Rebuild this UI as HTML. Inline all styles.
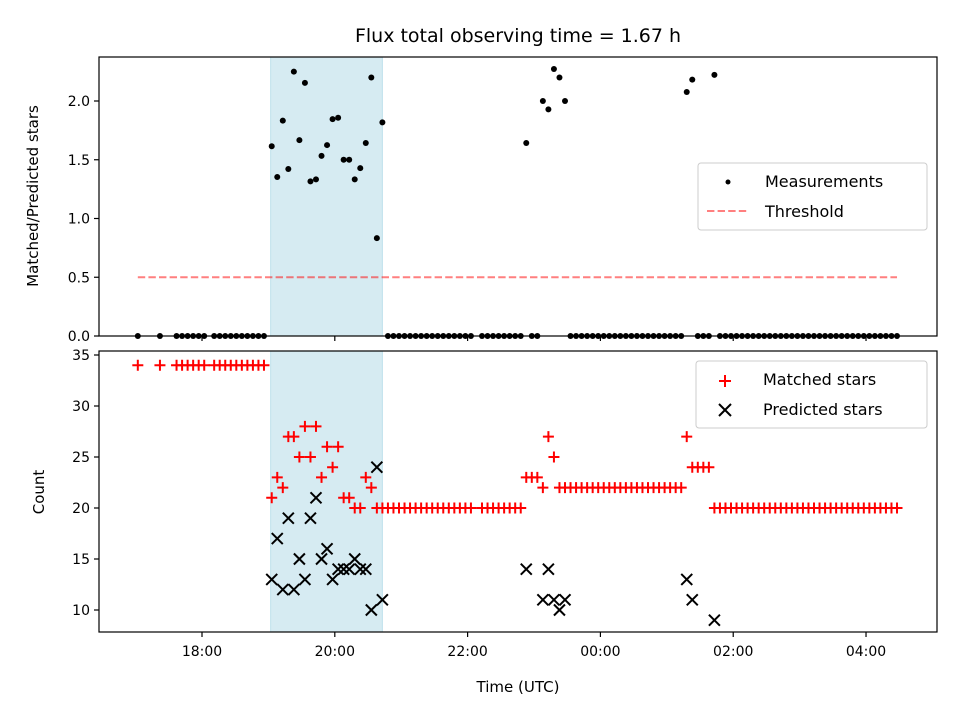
<!DOCTYPE html>
<html><head><meta charset="utf-8"><style>
body{margin:0;background:#fff}
svg text{font-family:"DejaVu Sans","Liberation Sans",sans-serif;fill:#000}
</style></head><body>
<svg id="fig" width="960" height="720" viewBox="0 0 960 720" xmlns="http://www.w3.org/2000/svg">
<rect width="960" height="720" fill="#fff"/>
<text x="518" y="42" font-size="19" text-anchor="middle">Flux total observing time = 1.67 h</text>
<g id="topPanel"></g>
<g id="botPanel"></g>
<text x="518" y="692" font-size="15" text-anchor="middle">Time (UTC)</text>
<text transform="translate(38,196) rotate(-90)" font-size="15" text-anchor="middle">Matched/Predicted stars</text>
<text transform="translate(44,492) rotate(-90)" font-size="15" text-anchor="middle">Count</text>
</svg>
<script>
// minutes since 17:00 UTC
const times=[2,22,37,42,47,52,57,62,71,76,81,86,91,96,101,106,111,116,
123,128,133,138,143,148,153,158,163,168,173,178,183,188,193,198,203,208,213,218,223,
228,233,238,243,248,253,258,263,268,273,278,283,288,293,298,303,313,318,323,328,333,338,343,348,
353,358,363,368,373,378,383,388,
393,398,403,408,413,418,423,428,433,438,443,448,453,458,463,468,473,478,483,488,493,
498,503,508,513,518,523,
528,533,538,543,548,553,558,563,568,573,578,583,588,593,598,603,608,613,618,623,628,633,638,643,648,653,658,663,668,673,678,683,688];
const matched=[34,34,34,34,34,34,34,34,34,34,34,34,34,34,34,34,34,34,
21,23,22,27,27,25,28,25,28,23,26,24,26,21,21,20,20,23,22,20,20,
20,20,20,20,20,20,20,20,20,20,20,20,20,20,20,20,20,20,20,20,20,20,20,20,
23,23,23,22,27,25,22,22,
22,22,22,22,22,22,22,22,22,22,22,22,22,22,22,22,22,22,22,22,22,
27,24,24,24,24,20,
20,20,20,20,20,20,20,20,20,20,20,20,20,20,20,20,20,20,20,20,20,20,20,20,20,20,20,20,20,20,20,20,20];
const predicted=[null,null,null,null,null,null,null,null,null,null,null,null,null,null,null,null,null,null,
13,17,12,19,12,15,13,19,21,15,16,13,14,14,14,15,14,14,10,24,11,
null,null,null,null,null,null,null,null,null,null,null,null,null,null,null,null,null,null,null,null,null,null,null,null,
14,null,null,11,14,11,10,11,
null,null,null,null,null,null,null,null,null,null,null,null,null,null,null,null,null,null,null,null,null,
13,11,null,null,null,9,
null,null,null,null,null,null,null,null,null,null,null,null,null,null,null,null,null,null,null,null,null,null,null,null,null,null,null,null,null,null,null,null,null];
const threshold=0.5;
const shadeStart=122, shadeEnd=223; // minutes
const xTickLabels=["18:00","20:00","22:00","00:00","02:00","04:00"];
const xTickMins=[60,180,300,420,540,660];
const topTicks=[0,0.5,1.0,1.5,2.0];
const botTicks=[10,15,20,25,30,35];

const NS="http://www.w3.org/2000/svg";
const L=99,R=937;
const X=m=>135.6+m*1.1067;
const topT=57,topB=336, Yt=v=>336-v*117.5;
const botT=351,botB=632, Yb=v=>355+(35-v)*10.2;
function mk(p,tag,at){const e=document.createElementNS(NS,tag);for(const k in at)e.setAttribute(k,at[k]);p.appendChild(e);return e;}
const topG=document.getElementById('topPanel'),botG=document.getElementById('botPanel');

let s1=mk(topG,'rect',{x:X(shadeStart),y:topT,width:X(shadeEnd)-X(shadeStart),height:topB-topT,fill:'#add8e6','fill-opacity':0.5,stroke:'#add8e6','stroke-opacity':0.7});


let s2=mk(botG,'rect',{x:X(shadeStart),y:botT,width:X(shadeEnd)-X(shadeStart),height:botB-botT,fill:'#add8e6','fill-opacity':0.5,stroke:'#add8e6','stroke-opacity':0.7});



let th=mk(topG,'line',{x1:X(times[0]),x2:X(times[times.length-1]),y1:Yt(threshold),y2:Yt(threshold),stroke:'#ff0000','stroke-opacity':0.5,'stroke-width':2,'stroke-dasharray':'7.4,3.2'});



times.forEach((t,i)=>{
  const r=predicted[i]==null?0:matched[i]/predicted[i];
  const c=mk(topG,'circle',{cx:X(t),cy:Yt(r),r:3,fill:'#000'});
  
  
});
times.forEach((t,i)=>{
  const x=X(t),y=Yb(matched[i]);
  const g=mk(botG,'path',{d:`M${x-5.5} ${y}H${x+5.5}M${x} ${y-5.5}V${y+5.5}`,stroke:'#ff0000','stroke-width':2});
  
  
});
times.forEach((t,i)=>{
  if(predicted[i]==null)return;
  const x=X(t),y=Yb(predicted[i]);
  const g=mk(botG,'path',{d:`M${x-5.5} ${y-5.5}L${x+5.5} ${y+5.5}M${x-5.5} ${y+5.5}L${x+5.5} ${y-5.5}`,stroke:'#000','stroke-width':2});
  
  
});

[[topG,topT,topB],[botG,botT,botB]].forEach(([g,t,b])=>{
  const f=mk(g,'rect',{x:L,y:t,width:R-L,height:b-t,fill:'none',stroke:'#000','stroke-width':1.2});
  
  
  xTickMins.forEach(m=>{mk(g,'line',{x1:X(m),x2:X(m),y1:b,y2:b+5,stroke:'#000','stroke-width':1.2});});
});
xTickMins.forEach((m,i)=>{
  const tx=mk(botG,'text',{x:X(m),y:botB+24,'font-size':14,'text-anchor':'middle'});
  tx.textContent=xTickLabels[i];
  
  
});
topTicks.forEach(v=>{
  mk(topG,'line',{x1:L-5,x2:L,y1:Yt(v),y2:Yt(v),stroke:'#000','stroke-width':1.2});
  const tx=mk(topG,'text',{x:L-9,y:Yt(v)+5,'font-size':14,'text-anchor':'end'});
  tx.textContent=v.toFixed(1);
  
  
});
botTicks.forEach(v=>{
  mk(botG,'line',{x1:L-5,x2:L,y1:Yb(v),y2:Yb(v),stroke:'#000','stroke-width':1.2});
  const tx=mk(botG,'text',{x:L-9,y:Yb(v)+5,'font-size':14,'text-anchor':'end'});
  tx.textContent=String(v);
  
  
});

let lg=mk(topG,'g',{});


mk(lg,'rect',{x:698,y:163,width:229,height:67,rx:3,fill:'#fff','fill-opacity':0.8,stroke:'#ccc'});
mk(lg,'circle',{cx:728,cy:182,r:2.5,fill:'#000'});
let t1=mk(lg,'text',{x:765,y:187,'font-size':16});t1.textContent='Measurements';
mk(lg,'line',{x1:707,x2:747,y1:211,y2:211,stroke:'#ff0000','stroke-opacity':0.5,'stroke-width':2,'stroke-dasharray':'7.4,3.2'});
let t2=mk(lg,'text',{x:765,y:217,'font-size':16});t2.textContent='Threshold';

let lb=mk(botG,'g',{});


mk(lb,'rect',{x:696,y:361,width:231,height:67,rx:3,fill:'#fff','fill-opacity':0.8,stroke:'#ccc'});
mk(lb,'path',{d:'M719 381H731M725 375V387',stroke:'#ff0000','stroke-width':2});
let t3=mk(lb,'text',{x:763,y:385,'font-size':16});t3.textContent='Matched stars';
mk(lb,'path',{d:'M719 404L731 416M719 416L731 404',stroke:'#000','stroke-width':2});
let t4=mk(lb,'text',{x:763,y:415,'font-size':16});t4.textContent='Predicted stars';
</script>
</body></html>
